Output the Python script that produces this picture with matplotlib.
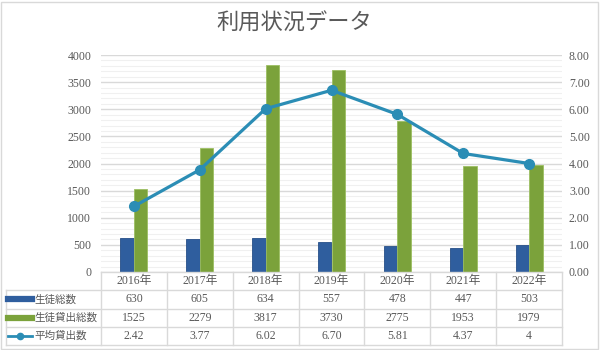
import matplotlib
matplotlib.use("Agg")
import matplotlib.pyplot as plt
from matplotlib.patches import Rectangle
from matplotlib.lines import Line2D
from matplotlib.ticker import MultipleLocator, FormatStrFormatter
import numpy as np

plt.rcParams['font.family'] = ['Liberation Serif', 'Noto Sans CJK JP']

years = ['2016年', '2017年', '2018年', '2019年', '2020年', '2021年', '2022年']
students = [630, 605, 634, 557, 478, 447, 503]
loans = [1525, 2279, 3817, 3730, 2775, 1953, 1979]
avg_labels = ['2.42', '3.77', '6.02', '6.70', '5.81', '4.37', '4']
avg = [float(s) for s in avg_labels]

series_names = ['生徒総数', '生徒貸出総数', '平均貸出数']

c_blue = '#2F5E9E'
c_green = '#7BA23B'
c_line = '#2B8DB5'
c_text = '#595959'
c_grid = '#D9D9D9'

W, H = 600, 350
fig = plt.figure(figsize=(6, 3.5), dpi=100)

def box(l, t, r, b):
    return [l / W, 1 - b / H, (r - l) / W, (b - t) / H]

# main plot area
ax = fig.add_axes(box(101, 55, 562, 272))
x = np.arange(len(years))
bw = 0.205
ax.bar(x - bw / 2, students, bw, color=c_blue, edgecolor='#264F88', linewidth=0.6, zorder=3)
ax.bar(x + bw / 2, loans, bw, color=c_green, edgecolor='#9CBF62', linewidth=0.6, zorder=3)
ax.set_xlim(-0.5, len(years) - 0.5)
ax.set_ylim(0, 4000)
ax.yaxis.set_major_locator(MultipleLocator(500))
ax.yaxis.set_minor_locator(MultipleLocator(100))
ax.grid(axis='y', which='major', color=c_grid, linewidth=1.0, zorder=0)
ax.grid(axis='y', which='minor', color='#F0F0F0', linewidth=0.8, zorder=0)
ax.set_xticks([])
ax.tick_params(axis='y', which='both', length=0, labelsize=8.5, labelcolor=c_text, pad=7)
for s in ax.spines.values():
    s.set_visible(False)

ax2 = ax.twinx()
ax2.plot(x, avg, color=c_line, linewidth=2.3, marker='o', markersize=7, zorder=4)
ax2.set_ylim(0, 8)
ax2.yaxis.set_major_locator(MultipleLocator(1))
ax2.yaxis.set_major_formatter(FormatStrFormatter('%.2f'))
ax2.tick_params(axis='y', length=0, labelsize=8.5, labelcolor=c_text, pad=5)
for s in ax2.spines.values():
    s.set_visible(False)

# data table below the plot, columns aligned with categories
tax = fig.add_axes(box(101, 272, 562, 345))
tax.set_xlim(-0.5, len(years) - 0.5)
tax.set_ylim(4, 0)
tax.axis('off')
leg_w = 95 / 461 * len(years)
left = -0.5 - leg_w
lkw = dict(color=c_grid, linewidth=1.0, clip_on=False)

tax.plot([-0.5, len(years) - 0.5], [0, 0], **lkw)
for r in range(1, 5):
    tax.plot([left, len(years) - 0.5], [r, r], **lkw)
for i in range(len(years) + 1):
    tax.plot([i - 0.5, i - 0.5], [0, 4], **lkw)
tax.plot([left, left], [1, 4], **lkw)

tkw = dict(ha='center', va='center', fontsize=8.5, color=c_text)
rows = [students, loans, avg_labels]
for i, yr in enumerate(years):
    tax.text(i, 0.5, yr, **tkw)
    for r, vals in enumerate(rows):
        tax.text(i, r + 1.5, str(vals[i]), **tkw)

# legend keys inside the first column
key_x0 = left + 0.03
key_x1 = left + 0.40
keys = [
    dict(color=c_blue, linewidth=4.5),
    dict(color=c_green, linewidth=4.5),
    dict(color=c_line, linewidth=2.0, marker='o', markersize=4.5, markevery=[1]),
]
for r, (name, kw) in enumerate(zip(series_names, keys)):
    yy = r + 1.5
    tax.add_line(Line2D([key_x0, (key_x0 + key_x1) / 2, key_x1], [yy] * 3, clip_on=False, **kw))
    tax.text(key_x1 + 0.03, yy, name, ha='left', va='center', fontsize=7.6, color=c_text)

fig.text(0.49, 1 - 23 / H, '利用状況データ', ha='center', va='center',
         fontsize=16, color=c_text, family=['Noto Sans CJK JP'])

# chart area border
fig.patches.append(Rectangle((1 / W, 1 / H), 597 / W, 347 / H, transform=fig.transFigure,
                             fill=False, edgecolor=c_grid, linewidth=1.0))

fig.savefig('out.png', dpi=100)
